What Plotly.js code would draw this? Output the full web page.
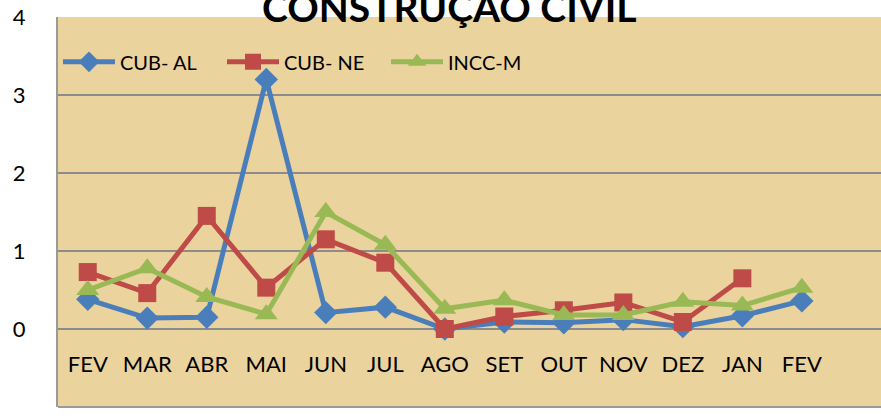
<!DOCTYPE html>
<html>
<head>
<meta charset="utf-8">
<script src="https://cdn.plot.ly/plotly-3.0.1.min.js"></script>
<style>
html,body{margin:0;padding:0;background:#fff;}
#chart{width:881px;height:416px;}
</style>
</head>
<body>
<div id="chart"></div>
<script>
const months = ["FEV","MAR","ABR","MAI","JUN","JUL","AGO","SET","OUT","NOV","DEZ","JAN","FEV"];
const cubAL = [0.38, 0.14, 0.15, 3.2, 0.21, 0.28, 0.0, 0.09, 0.08, 0.12, 0.03, 0.17, 0.36];
const cubNE = [0.73, 0.46, 1.45, 0.53, 1.15, 0.85, 0.0, 0.16, 0.24, 0.34, 0.09, 0.65, null];
const inccM = [0.5, 0.78, 0.41, 0.19, 1.5, 1.08, 0.26, 0.37, 0.18, 0.18, 0.35, 0.3, 0.53];
const seriesNames = ["CUB- AL", "CUB- NE", "INCC-M"];
const yTicks = [-1, 0, 1, 2, 3, 4];

const idx = months.map((m, i) => i);
const FONT = "Lato, 'Open Sans', sans-serif";

const traces = [
  {x: idx, y: cubAL, name: seriesNames[0], mode: "lines+markers",
   line: {color: "#4A7EBB", width: 5},
   marker: {symbol: "diamond", size: 18, color: "#4A7EBB"}},
  {x: idx, y: cubNE, name: seriesNames[1], mode: "lines+markers",
   line: {color: "#BE4B48", width: 5},
   marker: {symbol: "square", size: 18, color: "#BE4B48"}},
  {x: idx, y: inccM, name: seriesNames[2], mode: "lines+markers",
   line: {color: "#98B954", width: 5},
   marker: {symbol: "triangle-up", size: 20, color: "#98B954"}}
];

const layout = {
  width: 881, height: 416,
  margin: {l: 58, r: 0, t: 17, b: 9, pad: 0},
  paper_bgcolor: "#ffffff",
  plot_bgcolor: "#EBD39E",
  font: {family: FONT, color: "#000"},
  title: {text: "<b>CONSTRUÇÃO CIVIL</b>", font: {family: FONT, size: 39, color: "#000"},
          x: 0.51, xanchor: "center", yref: "container", y: 1.018, yanchor: "middle"},
  showlegend: true,
  legend: {orientation: "h", x: 0.0, y: 0.885, xanchor: "left", yanchor: "middle",
           bgcolor: "rgba(0,0,0,0)", font: {family: FONT, size: 20, color: "#000"},
           itemwidth: 52, entrywidth: 97, entrywidthmode: "pixels",
           tracegroupgap: 0, traceorder: "normal"},
  xaxis: {
    range: [-0.5, 13.33], tickmode: "array", tickvals: idx, ticktext: months,
    showgrid: false, zeroline: false, showline: false, ticks: "",
    anchor: "free", position: 0.2, ticklabelstandoff: 20,
    tickfont: {family: FONT, size: 22, color: "#000"}, fixedrange: true
  },
  yaxis: {
    range: [-1, 4], tickmode: "array", tickvals: yTicks,
    showgrid: true, gridcolor: "#8C8C8C", gridwidth: 1.5,
    zeroline: false, showline: true, linecolor: "#9A9A9A", linewidth: 2,
    ticks: "", ticklabelstandoff: 26,
    tickfont: {family: FONT, size: 22, color: "#000"}, fixedrange: true
  },
  shapes: [
    {type: "line", xref: "paper", yref: "paper", x0: 0, x1: 1, y0: 0, y1: 0,
     line: {color: "#9A9A9A", width: 2}}
  ]
};

Plotly.newPlot("chart", traces, layout, {displayModeBar: false, staticPlot: true});
</script>
</body>
</html>
